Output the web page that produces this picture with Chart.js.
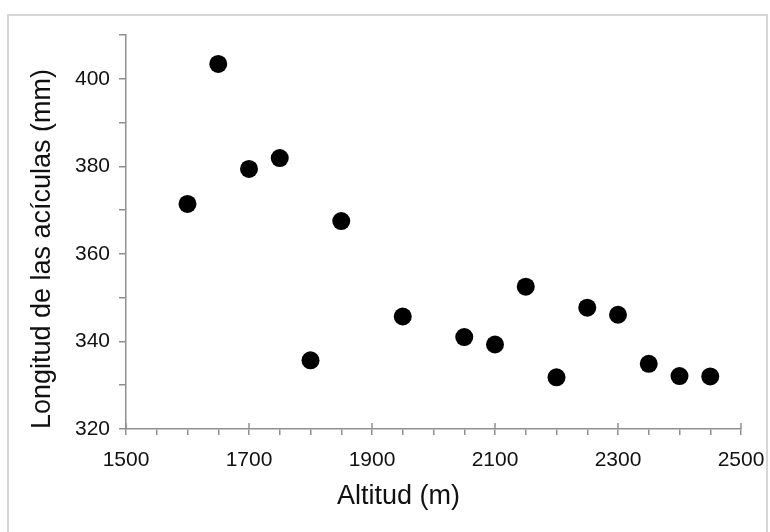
<!DOCTYPE html>
<html>
<head>
<meta charset="utf-8">
<script src="https://cdn.jsdelivr.net/npm/chart.js@4"></script>
<style>
  html, body { margin: 0; padding: 0; background: #fff; }
  canvas { display: block; }
</style>
</head>
<body>
<canvas id="chart" width="770" height="532"></canvas>
<script>
const altitud = [1600, 1650, 1700, 1750, 1800, 1850, 1950, 2050, 2100, 2150, 2200, 2250, 2300, 2350, 2400, 2450];
const longitud = [371.4, 403.4, 379.4, 381.9, 335.7, 367.5, 345.7, 341.0, 339.3, 352.5, 331.8, 347.7, 346.1, 334.9, 332.1, 332.0];
const xLabels = [1500, 1700, 1900, 2100, 2300, 2500];
const yLabels = [320, 340, 360, 380, 400];
const xTitle = 'Altitud (m)';
const yTitle = 'Longitud de las acículas (mm)';

const axisGray = '#8f8f8f';
const fontFam = '"Liberation Sans", Arial, sans-serif';

// frame around the figure, upward half of the major x ticks, axis titles
// (titles sit a bit off-centre in the original, so they are placed here)
const frame = {
    id: 'frame',
    beforeDraw(chart) {
        const c = chart.ctx;
        c.save();
        c.strokeStyle = '#d6d6d6';
        c.lineWidth = 2;
        c.strokeRect(8, 15, 759, 600);
        c.restore();
    },
    afterDraw(chart) {
        const c = chart.ctx;
        const xs = chart.scales.x;
        const ys = chart.scales.y;
        c.save();
        c.strokeStyle = axisGray;
        c.lineWidth = 1.5;
        xLabels.forEach(v => {
            const px = xs.getPixelForValue(v);
            c.beginPath();
            c.moveTo(px, xs.top);
            c.lineTo(px, xs.top - 6);
            c.stroke();
        });

        c.fillStyle = '#111';
        c.font = '27px ' + fontFam;
        c.textAlign = 'center';
        c.textBaseline = 'middle';
        c.fillText(xTitle, (xs.left + xs.right) / 2 - 35, 497);
        c.translate(43, (ys.top + ys.bottom) / 2 + 17);
        c.rotate(-Math.PI / 2);
        c.fillText(yTitle, 0, 0);
        c.restore();
    }
};

new Chart(document.getElementById('chart'), {
    type: 'scatter',
    data: {
        datasets: [{
            data: altitud.map((a, i) => ({x: a, y: longitud[i]})),
            backgroundColor: '#000',
            borderWidth: 0,
            pointRadius: 9,
            pointHoverRadius: 9
        }]
    },
    options: {
        responsive: false,
        animation: false,
        layout: { padding: { top: 35, right: 29, left: 0, bottom: 0 } },
        plugins: { legend: { display: false }, tooltip: { enabled: false } },
        scales: {
            x: {
                type: 'linear',
                min: 1500,
                max: 2500,
                afterFit(scale) {
                    scale.height = 103;
                    scale.paddingLeft = 0;
                    scale.paddingRight = 0;
                },
                border: { display: true, color: axisGray, width: 1.5 },
                grid: { drawOnChartArea: false, color: axisGray, tickLength: 6, lineWidth: 1.5 },
                ticks: {
                    stepSize: 50,
                    autoSkip: false,
                    maxRotation: 0,
                    padding: 13,
                    color: '#111',
                    font: { family: fontFam, size: 21 },
                    callback: v => xLabels.includes(v) ? String(v) : ''
                }
            },
            y: {
                type: 'linear',
                min: 320,
                max: 410,
                afterFit(scale) {
                    scale.width = 126;
                    scale.paddingTop = 0;
                    scale.paddingBottom = 0;
                },
                border: { display: true, color: axisGray, width: 1.5 },
                grid: { drawOnChartArea: false, color: axisGray, tickLength: 7, lineWidth: 1.5 },
                ticks: {
                    stepSize: 10,
                    autoSkip: false,
                    padding: 9,
                    color: '#111',
                    font: { family: fontFam, size: 21 },
                    callback: v => yLabels.includes(v) ? String(v) : ''
                }
            }
        }
    },
    plugins: [frame]
});
</script>
</body>
</html>
